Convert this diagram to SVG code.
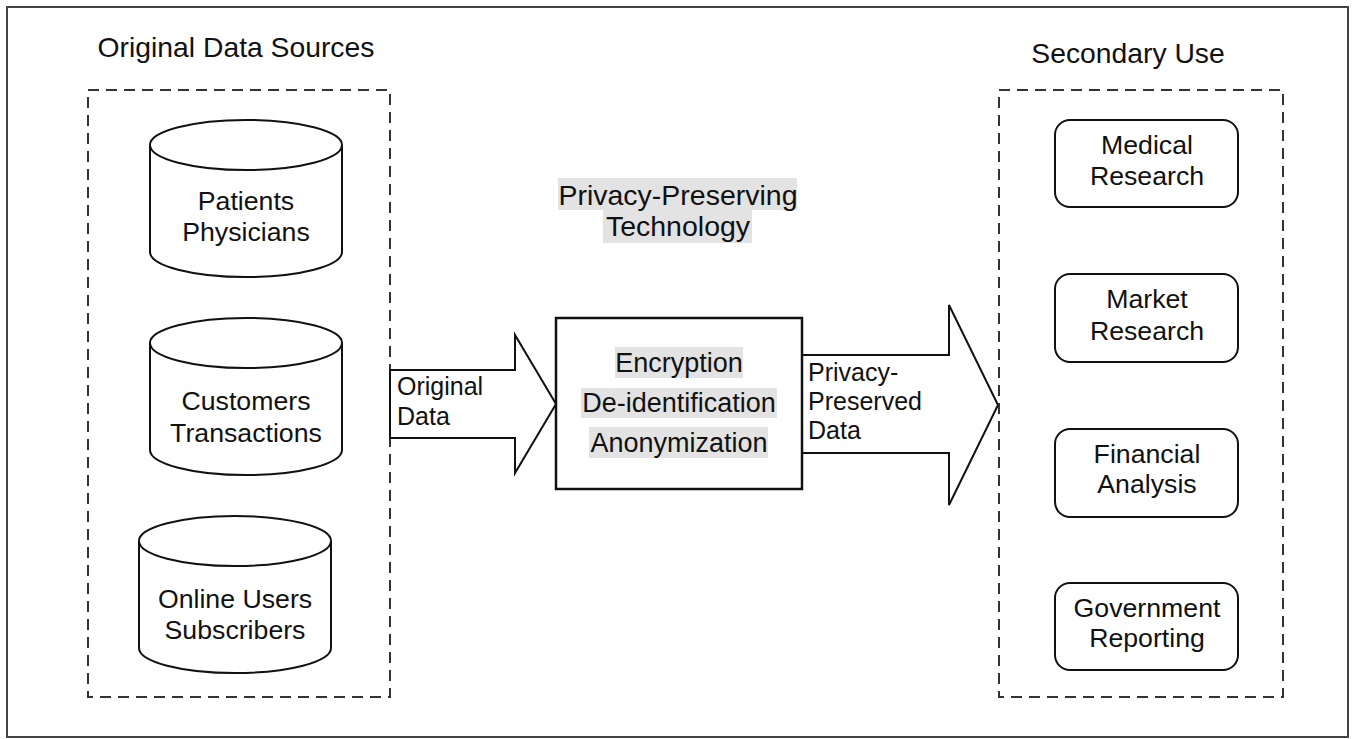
<svg xmlns="http://www.w3.org/2000/svg" width="1357" height="739" viewBox="0 0 1357 739">
<defs>
<style>
.frame{fill:#fff;stroke:#444;stroke-width:2}
.dash{fill:none;stroke:#333;stroke-width:2;stroke-dasharray:11,7}
.shape{fill:#fff;stroke:#111;stroke-width:2}
.box{fill:#fff;stroke:#111;stroke-width:2.5}
.arrow{fill:#fff;stroke:#111;stroke-width:2;stroke-linejoin:miter}
.hl{fill:#e3e3e3}
text{font-family:"Liberation Sans",Arial,sans-serif;fill:#111}
.title{font-size:28.3px;text-anchor:middle}
.node{font-size:26.7px;text-anchor:middle}
.mid{font-size:27px;text-anchor:middle}
.tech{font-size:28.5px;text-anchor:middle}
.lbl{font-size:25px}
</style>
</defs>
<rect class="frame" x="7" y="7" width="1341" height="730"/>

<g id="source-group">
<rect class="dash" x="88" y="90" width="302" height="607"/>
<text class="title" x="236" y="57">Original Data Sources</text>
</g>

<g id="cyl-patients">
<path class="shape" d="M150,145 V252 A96,25 0 0 0 342,252 V145"/>
<ellipse class="shape" cx="246" cy="145" rx="96" ry="25"/>
<text class="node" x="246" y="210">Patients</text>
<text class="node" x="246" y="241">Physicians</text>
</g>

<g id="cyl-customers">
<path class="shape" d="M150,343 V450 A96,25 0 0 0 342,450 V343"/>
<ellipse class="shape" cx="246" cy="343" rx="96" ry="25"/>
<text class="node" x="246" y="410">Customers</text>
<text class="node" x="246" y="442">Transactions</text>
</g>

<g id="cyl-online">
<path class="shape" d="M139,541 V648 A96,25 0 0 0 331,648 V541"/>
<ellipse class="shape" cx="235" cy="541" rx="96" ry="25"/>
<text class="node" x="235" y="608">Online Users</text>
<text class="node" x="235" y="639">Subscribers</text>
</g>

<g id="tech-label">
<rect class="hl" x="558" y="178" width="239" height="32"/>
<rect class="hl" x="603" y="210" width="149" height="33"/>
<text class="tech" x="678" y="205">Privacy-Preserving</text>
<text class="tech" x="678" y="236">Technology</text>
</g>

<g id="connectors">
<polygon class="arrow" points="390,370 515,370 515,335 556,404 515,473 515,438 390,438"/>
<polygon class="arrow" points="802,355 949,355 949,305 998,405 949,505 949,453 802,453"/>
<text class="lbl" x="397" y="395">Original</text>
<text class="lbl" x="397" y="425">Data</text>
<text class="lbl" x="808" y="381">Privacy-</text>
<text class="lbl" x="808" y="410">Preserved</text>
<text class="lbl" x="808" y="439">Data</text>
</g>

<g id="ppt-box">
<rect class="box" x="556" y="318" width="246" height="171"/>
<rect class="hl" x="615" y="347" width="128" height="31"/>
<rect class="hl" x="581" y="388" width="196" height="30"/>
<rect class="hl" x="589" y="427" width="179" height="31"/>
<text class="mid" x="679" y="372">Encryption</text>
<text class="mid" x="679" y="412">De-identification</text>
<text class="mid" x="679" y="452">Anonymization</text>
</g>

<g id="use-group">
<rect class="dash" x="999" y="90" width="284" height="607"/>
<text class="title" x="1128" y="63">Secondary Use</text>
</g>

<g id="use-medical">
<rect class="shape" x="1055" y="120" width="183" height="87" rx="15"/>
<text class="node" x="1147" y="154">Medical</text>
<text class="node" x="1147" y="185">Research</text>
</g>
<g id="use-market">
<rect class="shape" x="1055" y="274" width="183" height="88" rx="15"/>
<text class="node" x="1147" y="308">Market</text>
<text class="node" x="1147" y="340">Research</text>
</g>
<g id="use-financial">
<rect class="shape" x="1055" y="429" width="183" height="88" rx="15"/>
<text class="node" x="1147" y="463">Financial</text>
<text class="node" x="1147" y="493">Analysis</text>
</g>
<g id="use-government">
<rect class="shape" x="1055" y="583" width="183" height="87" rx="15"/>
<text class="node" x="1147" y="617">Government</text>
<text class="node" x="1147" y="647">Reporting</text>
</g>
</svg>
